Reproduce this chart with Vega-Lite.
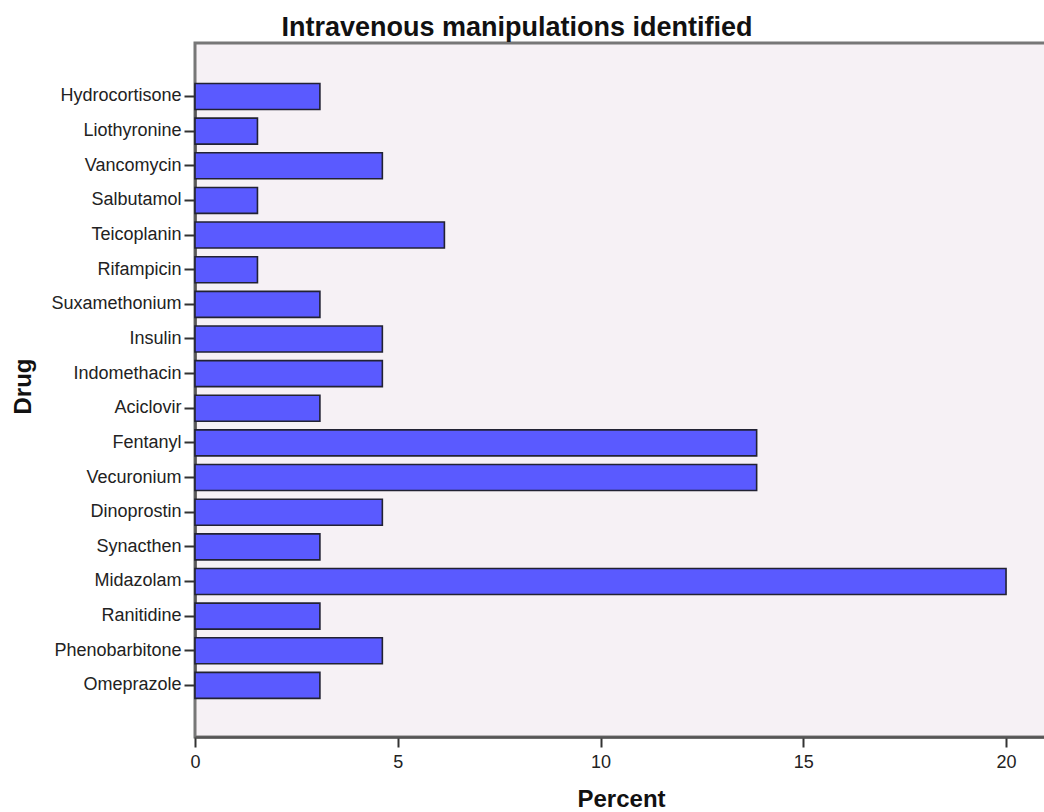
{
  "$schema": "https://vega.github.io/schema/vega-lite/v6.json",
  "autosize": {"type": "none"},
  "padding": {"left": 195, "top": 43, "right": 0, "bottom": 75},
  "width": 852,
  "height": 694,
  "background": "white",
  "title": {
    "text": "Intravenous manipulations identified",
    "anchor": "middle",
    "frame": "group",
    "dx": -104,
    "offset": 1,
    "font": "Liberation Sans",
    "fontSize": 27,
    "fontWeight": "bold",
    "color": "#111"
  },
  "config": {
    "view": {"fill": "#F6F1F5", "stroke": "#777777", "strokeWidth": 3},
    "axis": {
      "labelFont": "Liberation Sans",
      "labelFontSize": 18,
      "labelColor": "#222",
      "titleFont": "Liberation Sans",
      "titleFontSize": 24,
      "titleFontWeight": "bold",
      "titleColor": "#111",
      "domainColor": "#555",
      "domainWidth": 2.5,
      "tickColor": "#333",
      "tickWidth": 2,
      "grid": false
    }
  },
  "data": {
    "values": [
      {"drug": "Hydrocortisone", "percent": 3.08},
      {"drug": "Liothyronine", "percent": 1.54},
      {"drug": "Vancomycin", "percent": 4.62},
      {"drug": "Salbutamol", "percent": 1.54},
      {"drug": "Teicoplanin", "percent": 6.15},
      {"drug": "Rifampicin", "percent": 1.54},
      {"drug": "Suxamethonium", "percent": 3.08},
      {"drug": "Insulin", "percent": 4.62},
      {"drug": "Indomethacin", "percent": 4.62},
      {"drug": "Aciclovir", "percent": 3.08},
      {"drug": "Fentanyl", "percent": 13.85},
      {"drug": "Vecuronium", "percent": 13.85},
      {"drug": "Dinoprostin", "percent": 4.62},
      {"drug": "Synacthen", "percent": 3.08},
      {"drug": "Midazolam", "percent": 20.0},
      {"drug": "Ranitidine", "percent": 3.08},
      {"drug": "Phenobarbitone", "percent": 4.62},
      {"drug": "Omeprazole", "percent": 3.08}
    ]
  },
  "mark": {"type": "bar", "fill": "#5A5AFF", "stroke": "#222233", "strokeWidth": 1.6},
  "encoding": {
    "y": {
      "field": "drug",
      "type": "nominal",
      "sort": null,
      "title": "Drug",
      "scale": {"paddingInner": 0.25, "paddingOuter": 0, "range": [40.5, 655.4]},
      "axis": {"tickSize": 11, "labelPadding": 3, "titleX": -160, "titleY": 343, "titleAngle": -90}
    },
    "x": {
      "field": "percent",
      "type": "quantitative",
      "title": "Percent",
      "scale": {"domain": [0, 21.01], "nice": false},
      "axis": {"values": [0, 5, 10, 15, 20], "tickSize": 10, "labelPadding": 6, "labelFlush": false, "titlePadding": 16, "titleX": 426}
    }
  }
}
